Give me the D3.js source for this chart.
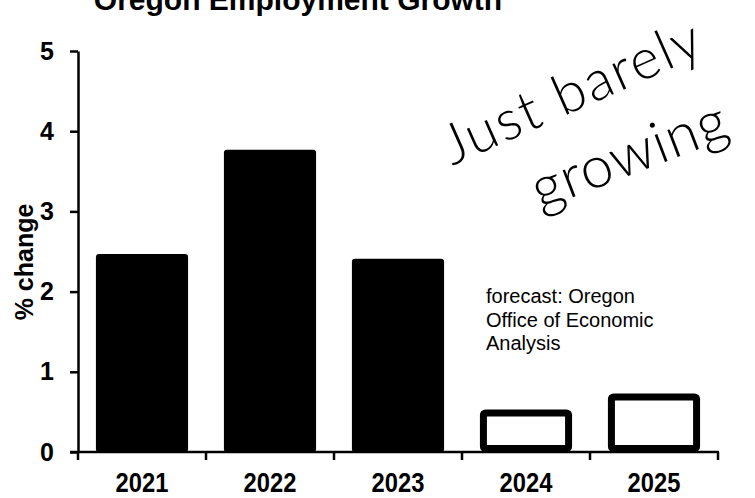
<!DOCTYPE html>
<html>
<head>
<meta charset="utf-8">
<script src="https://cdn.jsdelivr.net/npm/d3@7"></script>
<style>
  body { margin: 0; background: #fff; }
  svg { display: block; font-family: "Liberation Sans", Arial, sans-serif; }
</style>
</head>
<body>
<div id="chart"></div>
<script>
// data
const years = ['2021', '2022', '2023', '2024', '2025'];
const growth = [2.47, 3.77, 2.41, 0.53, 0.73];
const forecast = [false, false, false, true, true];
const yTicks = [0, 1, 2, 3, 4, 5];
const noteLines = ['forecast: Oregon', 'Office of Economic', 'Analysis'];

const W = 755, H = 498;
const svg = d3.select('#chart').append('svg')
    .attr('width', W)
    .attr('height', H);

const x = d3.scaleBand()
    .domain(years)
    .range([78, 718])
    .paddingInner(0.28)
    .paddingOuter(0.14);

const y = d3.scaleLinear()
    .domain([0, 5])
    .range([452, 51]);

// title (cut off at the top in the original)
svg.append('text')
    .attr('x', 298)
    .attr('y', 10)
    .attr('text-anchor', 'middle')
    .attr('font-size', 30)
    .attr('font-weight', 'bold')
    .text('Oregon Employment Growth');

// bars: solid for actuals, outlined for forecast
const bars = svg.append('g');
years.forEach((yr, i) => {
    const sw = 7;
    if (!forecast[i]) {
        bars.append('rect')
            .attr('x', x(yr))
            .attr('y', y(growth[i]))
            .attr('width', x.bandwidth())
            .attr('height', y(0) - y(growth[i]))
            .attr('rx', 3)
            .attr('fill', '#000');
    } else {
        bars.append('rect')
            .attr('x', x(yr) + sw / 2)
            .attr('y', y(growth[i]) + sw / 2)
            .attr('width', x.bandwidth() - sw)
            .attr('height', y(0) - y(growth[i]) - sw)
            .attr('rx', 2)
            .attr('fill', '#fff')
            .attr('stroke', '#000')
            .attr('stroke-width', sw);
    }
});

// y axis
const yAxis = svg.append('g')
    .attr('transform', 'translate(78,0)')
    .call(d3.axisLeft(y).tickValues(yTicks).tickFormat(d3.format('d'))
        .tickSize(8).tickPadding(16).tickSizeOuter(0));
yAxis.select('.domain').attr('stroke-width', 2.5);
yAxis.selectAll('.tick line').attr('stroke-width', 2.5);
yAxis.selectAll('.tick text')
    .attr('font-family', '"Liberation Sans", Arial, sans-serif')
    .attr('font-size', 25)
    .attr('font-weight', 'bold')
    .attr('fill', '#000');

// x axis: line plus ticks at band boundaries
const xAxis = svg.append('g')
    .attr('transform', `translate(0,${y(0)})`);
xAxis.append('line')
    .attr('x1', 70).attr('x2', x.range()[1] + 1)
    .attr('stroke', '#000').attr('stroke-width', 2.5);
d3.range(years.length + 1).forEach(i => {
    const bx = x.range()[0] + i * x.step();
    xAxis.append('line')
        .attr('x1', bx).attr('x2', bx)
        .attr('y1', 0).attr('y2', 8)
        .attr('stroke', '#000').attr('stroke-width', 2.5);
});
xAxis.selectAll('text.year')
    .data(years)
    .enter().append('text')
    .attr('class', 'year')
    .attr('transform', d => `translate(${x(d) + x.bandwidth() / 2},40) scale(0.88,1)`)
    .attr('text-anchor', 'middle')
    .attr('font-size', 27)
    .attr('font-weight', 'bold')
    .text(d => d);

// y label
svg.append('text')
    .attr('transform', 'rotate(-90)')
    .attr('x', -262)
    .attr('y', 33)
    .attr('text-anchor', 'middle')
    .attr('font-size', 25)
    .attr('font-weight', 'bold')
    .text('% change');

// forecast source note
svg.append('text')
    .attr('x', 486)
    .attr('y', 303)
    .attr('font-size', 20)
    .selectAll('tspan')
    .data(noteLines)
    .enter().append('tspan')
    .attr('x', 486)
    .attr('dy', (d, i) => i === 0 ? 0 : 23.5)
    .text(d => d);

// handwritten remark
const hand = svg.append('g')
    .attr('font-family', 'Lato, "Open Sans", sans-serif')
    .attr('font-weight', 300)
    .attr('fill', '#000');
hand.append('text')
    .attr('transform', 'translate(452,166) rotate(-24)')
    .attr('font-size', 56)
    .attr('letter-spacing', 2)
    .text('Just barely');
hand.append('text')
    .attr('transform', 'translate(540,210) rotate(-21)')
    .attr('font-size', 58)
    .attr('letter-spacing', 1)
    .text('growing');
</script>
</body>
</html>
